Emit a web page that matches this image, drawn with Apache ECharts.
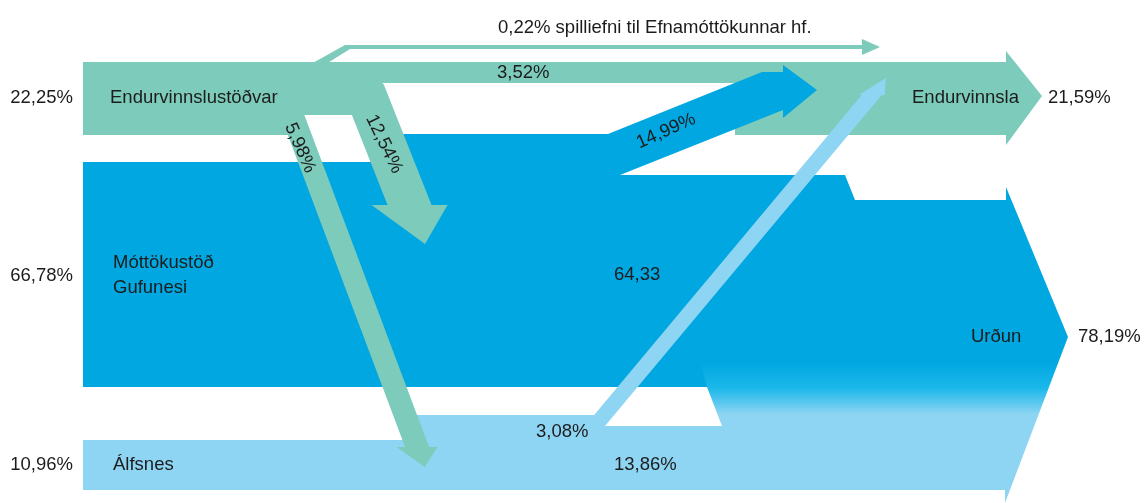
<!DOCTYPE html>
<html>
<head>
<meta charset="utf-8">
<title>Flæði úrgangs</title>
<script src="https://cdn.jsdelivr.net/npm/echarts@6/dist/echarts.min.js"></script>
<style>
  html, body { margin: 0; padding: 0; background: #fff; }
  #chart { width: 1145px; height: 503px; }
</style>
</head>
<body>
<div id="chart"></div>
<script>
// upphafsstaðir og hlutfall alls úrgangs (%)
const sources = ['Endurvinnslustöðvar', 'Móttökustöð\nGufunesi', 'Álfsnes'];
const sourceShares = [22.25, 66.78, 10.96];

// lokastaðir
const targets = ['Endurvinnsla', 'Urðun'];
const targetShares = [21.59, 78.19];

// flæði milli staða
const flowNames = ['spilliefni', 'endurv-endurv', 'endurv-gufunes', 'endurv-alfsnes',
                   'gufunes-endurv', 'gufunes-urdun', 'alfsnes-endurv', 'alfsnes-urdun'];
const flowValues = [0.22, 3.52, 12.54, 5.98, 14.99, 64.33, 3.08, 13.86];
const flowUnits = ['% spilliefni til Efnamóttökunnar hf.', '%', '%', '%', '%', '', '%', '%'];

const GREEN = '#7dcbbb', BLUE = '#00a7e1', LIGHT = '#8ed5f3', INK = '#1c1c1c';
const fmt = v => v.toFixed(2).replace('.', ',');

// --- layout (axis units, x 0..1145, y 0..503 top-down) ---
const bands = {
  gufunes: [[83,162],[372,162],[372,134],[608,134],[620,175],[712,175],[712,387],[83,387]],
  urdun: [[700,175],[845,175],[855,200],[1006,200],[1006,187],[1068,337],[1005,503],
          [1005,490],[722,490],[722,426],[707,387],[700,360]],
  alfsnes: [[83,440],[416,440],[416,415],[595,415],[605,426],[724,426],[724,490],[83,490]],
  endurv: [[83,62],[1006,62],[1006,51],[1042,96],[1006,145],[1006,135],[735,135],[735,83],
           [383,83],[370,115],[300,115],[295,135],[83,135]],
  spilliefni: [[311,64],[345,45],[862,45],[862,39],[880,47],[862,55],[862,49],[350,49],[326,64]],
  gufunesEndurv: [[600,134],[608,134],[762,72],[783,72],[783,65],[817,90],[783,118],[783,110],
                  [620,175],[600,175]]
};
// arrows with horizontal cuts: start centre, tip, shaft width, head width, head length
const arrows = {
  endurvGufunes: { from: [361.6, 84], tip: [425, 244], shaft: 44, head: 76, headLen: 39 },
  endurvAlfsnes: { from: [291.2, 112], tip: [424.6, 467], shaft: 24, head: 41, headLen: 20 },
  alfsnesEndurv: { from: [593.3, 428], tip: [886, 78], shaft: 20, head: 26, headLen: 17 }
};

function arrowPoints(a, b, sw, hw, hl) {
  const k = (b[0] - a[0]) / (b[1] - a[1]);
  const by = b[1] - (b[1] > a[1] ? hl : -hl);
  const cx = a[0] + (by - a[1]) * k;
  return [[a[0] - sw / 2, a[1]], [cx - sw / 2, by], [cx - hw / 2, by], b,
          [cx + hw / 2, by], [cx + sw / 2, by], [a[0] + sw / 2, a[1]]];
}

const urdunFill = new echarts.graphic.LinearGradient(0, 0, 0, 1, [
  { offset: 0, color: BLUE }, { offset: 0.57, color: BLUE },
  { offset: 0.65, color: '#1bb8ea' }, { offset: 0.73, color: LIGHT }, { offset: 1, color: LIGHT }
]);

// draw order
const shapes = [
  { pts: bands.gufunes, fill: BLUE },
  { pts: bands.urdun, fill: urdunFill },
  { pts: bands.alfsnes, fill: LIGHT },
  { pts: bands.endurv, fill: GREEN },
  { arrow: arrows.endurvGufunes, fill: GREEN },
  { arrow: arrows.endurvAlfsnes, fill: GREEN },
  { pts: bands.spilliefni, fill: GREEN },
  { pts: bands.gufunesEndurv, fill: BLUE },
  { arrow: arrows.alfsnesEndurv, fill: LIGHT }
];

const labels = [
  { text: fmt(sourceShares[0]) + '%', at: [73, 98], align: 'right' },
  { text: fmt(sourceShares[1]) + '%', at: [73, 276], align: 'right' },
  { text: fmt(sourceShares[2]) + '%', at: [73, 465], align: 'right' },
  { text: sources[0], at: [110, 98] },
  { text: sources[1], at: [113, 275.5] },
  { text: sources[2], at: [113, 465] },
  { text: targets[0], at: [912, 98] },
  { text: targets[1], at: [971, 337] },
  { text: fmt(targetShares[0]) + '%', at: [1048, 98] },
  { text: fmt(targetShares[1]) + '%', at: [1078, 337] },
  { text: fmt(flowValues[0]) + flowUnits[0], at: [498, 28] },
  { text: fmt(flowValues[1]) + flowUnits[1], at: [497, 73] },
  { text: fmt(flowValues[2]) + flowUnits[2], at: [384, 144], align: 'center', rot: -64 },
  { text: fmt(flowValues[3]) + flowUnits[3], at: [300, 148], align: 'center', rot: -66 },
  { text: fmt(flowValues[4]) + flowUnits[4], at: [666, 131], align: 'center', rot: 24 },
  { text: fmt(flowValues[5]) + flowUnits[5], at: [614, 275] },
  { text: fmt(flowValues[6]) + flowUnits[6], at: [536, 432] },
  { text: fmt(flowValues[7]) + flowUnits[7], at: [614, 465] }
];

const chart = echarts.init(document.getElementById('chart'));
chart.setOption({
  animation: false,
  grid: { left: 0, right: 0, top: 0, bottom: 0 },
  xAxis: { type: 'value', min: 0, max: 1145, show: false },
  yAxis: { type: 'value', min: 0, max: 503, inverse: true, show: false },
  series: [
    {
      type: 'custom',
      clip: false,
      data: shapes.map(() => [0, 0]),
      renderItem: (params, api) => {
        const s = shapes[params.dataIndex];
        const pts = s.arrow
          ? arrowPoints(api.coord(s.arrow.from), api.coord(s.arrow.tip), s.arrow.shaft, s.arrow.head, s.arrow.headLen)
          : s.pts.map(p => api.coord(p));
        return { type: 'polygon', shape: { points: pts }, style: { fill: s.fill } };
      }
    },
    {
      type: 'custom',
      clip: false,
      z: 5,
      data: labels.map(l => l.at),
      renderItem: (params, api) => {
        const l = labels[params.dataIndex];
        const p = api.coord(l.at);
        return {
          type: 'text',
          x: p[0], y: p[1],
          rotation: (l.rot || 0) * Math.PI / 180,
          style: {
            text: l.text, fill: INK, fontSize: 18.5, lineHeight: 25,
            fontFamily: '"Liberation Sans", Arial, sans-serif',
            align: l.align || 'left', verticalAlign: 'middle'
          }
        };
      }
    }
  ]
});
</script>
</body>
</html>
